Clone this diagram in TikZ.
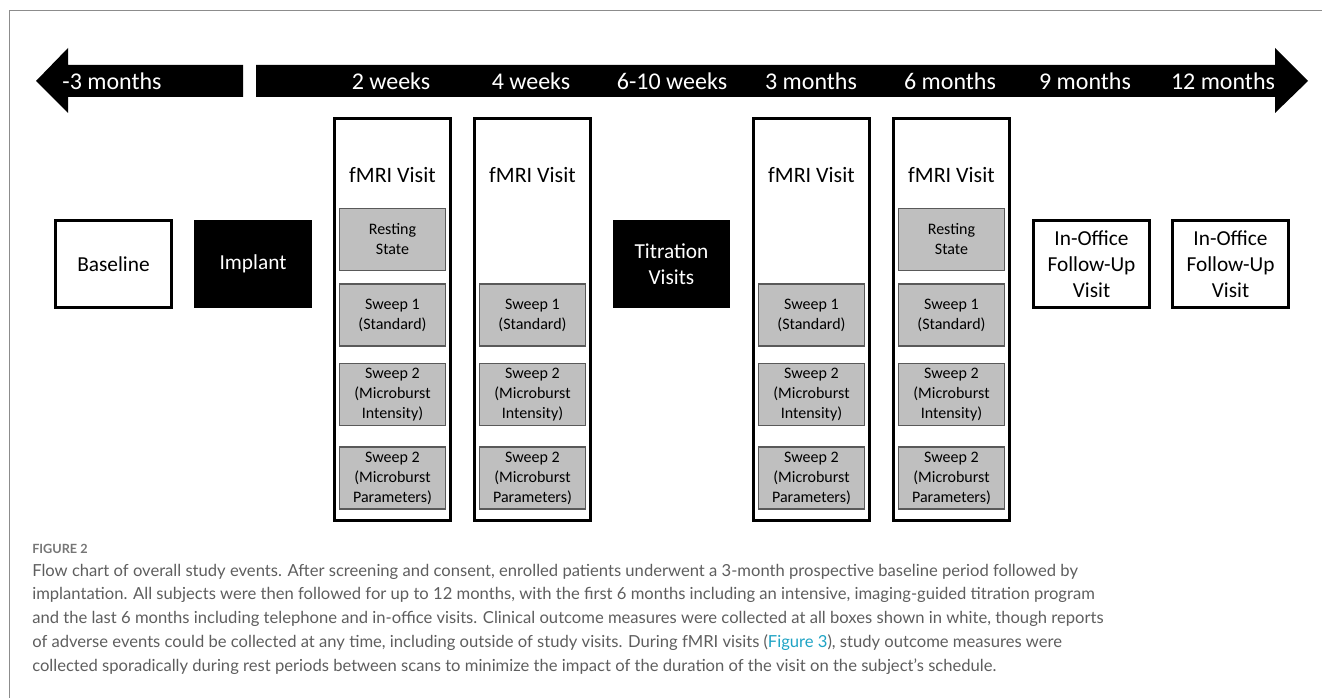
\documentclass[tikz,border=0pt]{standalone}
\usepackage{fontspec}
\setmainfont{Carlito}
\newfontfamily\captionfont{Lato}
\usetikzlibrary{positioning}

\definecolor{sweepgray}{HTML}{BFBFBF}
\definecolor{sweepline}{HTML}{595959}
\definecolor{captiongray}{HTML}{5E5E5E}
\definecolor{framegray}{HTML}{8C8C8C}
\definecolor{linkblue}{HTML}{1FA3C4}

\tikzset{
  eventbox/.style={draw=black, line width=2.2pt, fill=white, minimum width=87pt,
    minimum height=65pt, align=center, inner sep=0pt,
    font=\fontsize{16}{19.5}\selectfont},
  darkbox/.style={eventbox, fill=black, text=white, line width=0.8pt},
  visitcol/.style={draw=black, line width=2.2pt, minimum width=87pt,
    minimum height=301.5pt, inner sep=0pt},
  visittitle/.style={font=\fontsize{16.5}{19.5}\selectfont, inner sep=0pt},
  sweepbox/.style={draw=sweepline, line width=0.8pt, fill=sweepgray,
    minimum width=79.5pt, minimum height=46.5pt, align=center, inner sep=0pt,
    font=\fontsize{12}{15}\selectfont},
  ticklabel/.style={text=white, inner sep=0pt, font=\fontsize{18}{20}\selectfont},
  capline/.style={anchor=west, inner sep=0pt, text=captiongray,
    font=\captionfont\fontsize{12.45}{15}\selectfont}
}

\begin{document}
\begin{tikzpicture}[x=0.75pt, y=-0.75pt]

\useasboundingbox (0,0) rectangle (1322,698);

% Page frame
\draw[framegray, line width=1.2pt] (9.5,698) -- (9.5,10.5) -- (1322,10.5);

% Timeline arrows
\fill (36,81) -- (68,48) -- (68,65) -- (243,65) -- (243,97) -- (68,97)
  -- (68,113) -- cycle;
\fill (256,65) -- (1275,65) -- (1275,48) -- (1308,81) -- (1275,113)
  -- (1275,97) -- (256,97) -- cycle;

% Time points
\node[ticklabel] (tbase) at (112,81) {-3 months};
\foreach \name/\tx/\txt in {twk2/391/2 weeks, twk4/531/4 weeks,
    ttit/672/6-10 weeks, tmo3/811/3 months, tmo6/950/6 months,
    tmo9/1085/9 months, tmo12/1223/12 months}
  \node[ticklabel] (\name) at (\tx,81) {\txt};

% Single events
\node[eventbox] (baseline) at (113.5,264) {Baseline};
\node[darkbox] (implant) at (253,264) {Implant};
\node[darkbox] (titration) at (671.5,264) {Titration\\Visits};
\node[eventbox] (office9) at (1091.5,264) {In-Office\\Follow-Up\\Visit};
\node[eventbox] (office12) at (1230.5,264) {In-Office\\Follow-Up\\Visit};

% fMRI visits
\foreach \name/\cx/\rest in {wk2/392.5/1, wk4/532.5/0, mo3/811.5/0, mo6/951.5/1} {
  \node[visitcol] (\name) at (\cx,319.5) {};
  \node[visittitle] (\name-title) at (\cx,175) {fMRI Visit};
  \ifnum\rest=1
    \node[sweepbox] (\name-rest) at (\cx,239.5) {Resting\\State};
  \fi
  \node[sweepbox] (\name-std) at (\cx,315) {Sweep 1\\(Standard)};
  \node[sweepbox] (\name-int) at (\cx,394.5) {Sweep 2\\(Microburst\\Intensity)};
  \node[sweepbox] (\name-par) at (\cx,478) {Sweep 2\\(Microburst\\Parameters)};
}

% Caption
\node[anchor=west, inner sep=0pt, text=captiongray!85,
  font=\captionfont\bfseries\fontsize{9.5}{11}\selectfont] (figlabel) at (32,549) {FIGURE 2};
\node[capline] (cap1) at (32,572) {Flow chart of overall study events. After screening and consent, enrolled patients underwent a 3-month prospective baseline period followed by};
\node[capline] (cap2) at (32,595) {implantation. All subjects were then followed for up to 12 months, with the first 6 months including an intensive, imaging-guided titration program};
\node[capline] (cap3) at (32,619) {and the last 6 months including telephone and in-office visits. Clinical outcome measures were collected at all boxes shown in white, though reports};
\node[capline] (cap4) at (32,643) {of adverse events could be collected at any time, including outside of study visits. During fMRI visits (\textcolor{linkblue}{Figure 3}), study outcome measures were};
\node[capline] (cap5) at (32,667) {collected sporadically during rest periods between scans to minimize the impact of the duration of the visit on the subject’s schedule.};

\end{tikzpicture}
\end{document}
